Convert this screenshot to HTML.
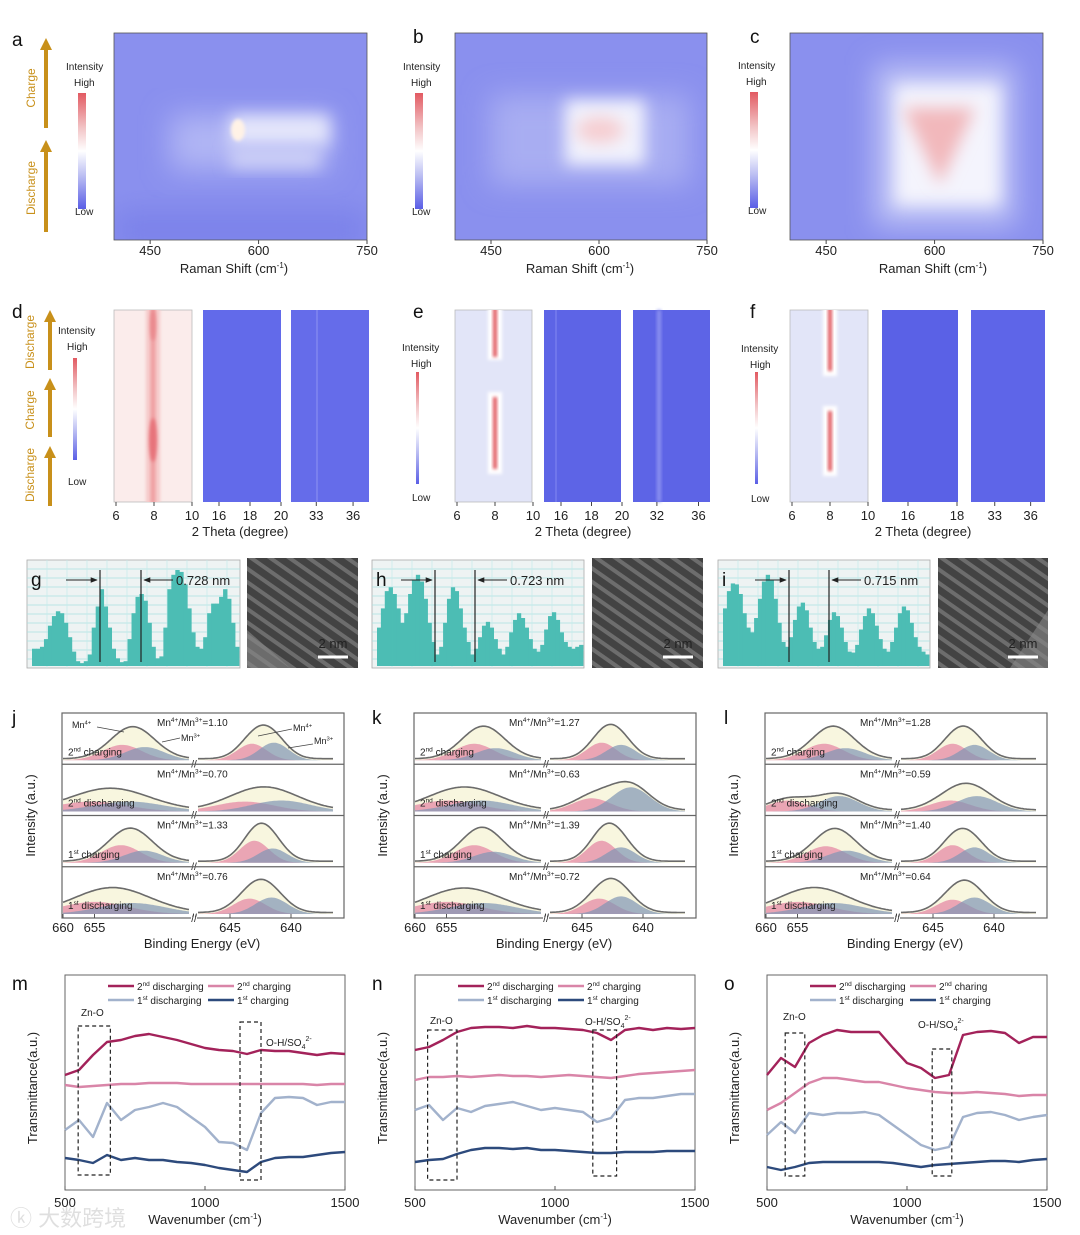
<!DOCTYPE html>
<html><head><meta charset="utf-8">
<style>
html,body{margin:0;padding:0;background:#fff;}
svg{display:block;font-family:"Liberation Sans","Noto Sans CJK SC",sans-serif;}
.lbl{font-size:19px;fill:#111;}
.tk{font-size:13px;fill:#222;}
.ax{font-size:13px;fill:#222;}
.sm{font-size:10px;fill:#222;}
.or{font-size:12px;fill:#c8901a;}
</style></head>
<body>
<svg id="fig" width="1080" height="1235" viewBox="0 0 1080 1235" xmlns="http://www.w3.org/2000/svg">
<defs>
<linearGradient id="cbar" x1="0" y1="0" x2="0" y2="1">
<stop offset="0" stop-color="#e25a62"/><stop offset="0.3" stop-color="#f2c4c6"/><stop offset="0.5" stop-color="#ffffff"/><stop offset="0.72" stop-color="#b9bcf2"/><stop offset="1" stop-color="#5a5ee6"/>
</linearGradient>
<filter id="bl8" x="-50%" y="-50%" width="200%" height="200%"><feGaussianBlur stdDeviation="14"/></filter>
<filter id="bl4" x="-50%" y="-50%" width="200%" height="200%"><feGaussianBlur stdDeviation="8"/></filter>
<filter id="bl2" x="-50%" y="-50%" width="200%" height="200%"><feGaussianBlur stdDeviation="1.6"/></filter>
<clipPath id="cA"><rect x="114" y="33" width="253" height="207"/></clipPath>
<clipPath id="cB"><rect x="455" y="33" width="252" height="207"/></clipPath>
<clipPath id="cC"><rect x="790" y="33" width="253" height="207"/></clipPath>
<clipPath id="cD"><rect x="114" y="310" width="78" height="192"/></clipPath>
<clipPath id="cE"><rect x="455" y="310" width="77" height="192"/></clipPath>
<clipPath id="cF"><rect x="790" y="310" width="78" height="192"/></clipPath>
<pattern id="tem" width="11" height="11" patternUnits="userSpaceOnUse" patternTransform="rotate(35)">
<rect width="11" height="11" fill="#3a3a3a"/><rect y="3" width="11" height="4" fill="#8a8a8a" opacity="0.8"/>
</pattern>
<marker id="arR" viewBox="0 0 10 10" refX="9" refY="5" markerWidth="7" markerHeight="7" orient="auto"><path d="M0,1 L10,5 L0,9 z" fill="#222"/></marker>
<marker id="arO" viewBox="0 0 10 10" refX="5" refY="5" markerWidth="3" markerHeight="3" orient="auto"><path d="M0,0 L10,5 L0,10 z" fill="#c8901a"/></marker>
</defs>

<text class="lbl" x="12" y="46">a</text>
<text class="lbl" x="413" y="43">b</text>
<text class="lbl" x="750" y="43">c</text>
<text class="lbl" x="12" y="318">d</text>
<text class="lbl" x="413" y="318">e</text>
<text class="lbl" x="750" y="318">f</text>
<text class="lbl" x="12" y="724">j</text>
<text class="lbl" x="372" y="724">k</text>
<text class="lbl" x="724" y="724">l</text>
<text class="lbl" x="12" y="990">m</text>
<text class="lbl" x="372" y="990">n</text>
<text class="lbl" x="724" y="990">o</text>

<g>
<rect x="114" y="33" width="253" height="207" fill="#8a90ee"/>
<g clip-path="url(#cA)">
<rect x="114" y="210" width="253" height="40" fill="#7c82ea" filter="url(#bl8)"/>
<rect x="170" y="115" width="160" height="55" fill="#b0b5f4" filter="url(#bl8)"/>
<rect x="230" y="115" width="100" height="30" fill="#e4e6fb" filter="url(#bl4)"/>
<rect x="230" y="148" width="90" height="20" fill="#cdd0f7" filter="url(#bl4)"/>
<ellipse cx="238" cy="130" rx="7" ry="11" fill="#fff2e6" filter="url(#bl2)"/>
</g>
<rect x="114" y="33" width="253" height="207" fill="none" stroke="#555" stroke-width="0.8"/>
</g>
<g>
<rect x="455" y="33" width="252" height="207" fill="#8a90ee"/>
<g clip-path="url(#cB)">
<rect x="490" y="95" width="200" height="90" fill="#a8adf2" filter="url(#bl8)"/>
<rect x="565" y="100" width="80" height="65" fill="#f2f3fd" filter="url(#bl4)"/>
<ellipse cx="600" cy="130" rx="24" ry="13" fill="#f6cdd0" filter="url(#bl4)"/>
</g>
<rect x="455" y="33" width="252" height="207" fill="none" stroke="#555" stroke-width="0.8"/>
</g>
<g>
<rect x="790" y="33" width="253" height="207" fill="#8a90ee"/>
<g clip-path="url(#cC)">
<rect x="875" y="65" width="140" height="160" fill="#c0c4f6" filter="url(#bl8)"/>
<rect x="895" y="85" width="105" height="120" fill="#f4f4fd" filter="url(#bl4)"/>
<path d="M903,108 L975,108 L940,185 Z" fill="#f2b8bb" filter="url(#bl4)"/>
</g>
<rect x="790" y="33" width="253" height="207" fill="none" stroke="#555" stroke-width="0.8"/>
</g>

<g>
<rect x="114" y="310" width="78" height="192" fill="#fbeceb" stroke="#bbb" stroke-width="0.8"/>
<g clip-path="url(#cD)">
<rect x="146" y="300" width="14" height="210" fill="#f5c8c8" filter="url(#bl2)"/>
<rect x="151" y="305" width="4" height="200" fill="#ee9a9c" filter="url(#bl2)"/>
<ellipse cx="153" cy="440" rx="4" ry="22" fill="#e7737a" filter="url(#bl2)"/>
<ellipse cx="153" cy="325" rx="3" ry="16" fill="#ea8a8e" filter="url(#bl2)"/>
</g>
<rect x="203" y="310" width="78" height="192" fill="#626aea"/>
<rect x="291" y="310" width="78" height="192" fill="#656cea"/>
<rect x="316" y="310" width="2" height="192" fill="#7a80ee"/>
</g>
<g>
<rect x="455" y="310" width="77" height="192" fill="#e2e5f8" stroke="#bbb" stroke-width="0.8"/>
<g clip-path="url(#cE)">
<rect x="488" y="300" width="14" height="60" fill="#ffffff" filter="url(#bl2)"/>
<rect x="488" y="392" width="14" height="82" fill="#ffffff" filter="url(#bl2)"/>
<rect x="493" y="305" width="4" height="52" fill="#e05a60" filter="url(#bl2)"/>
<rect x="493" y="397" width="4" height="72" fill="#e05a60" filter="url(#bl2)"/>
</g>
<rect x="544" y="310" width="77" height="192" fill="#5d64e6"/>
<rect x="555" y="310" width="2" height="192" fill="#7076ec"/>
<rect x="633" y="310" width="77" height="192" fill="#5d64e6"/>
<rect x="657" y="310" width="4" height="192" fill="#8d92f0" filter="url(#bl2)"/>
</g>
<g>
<rect x="790" y="310" width="78" height="192" fill="#e2e5f8" stroke="#bbb" stroke-width="0.8"/>
<g clip-path="url(#cF)">
<rect x="823" y="300" width="14" height="76" fill="#ffffff" filter="url(#bl2)"/>
<rect x="823" y="406" width="14" height="70" fill="#ffffff" filter="url(#bl2)"/>
<rect x="828" y="305" width="4" height="66" fill="#e05a60" filter="url(#bl2)"/>
<rect x="828" y="411" width="4" height="60" fill="#e05a60" filter="url(#bl2)"/>
</g>
<rect x="882" y="310" width="76" height="192" fill="#5a61e6"/>
<rect x="971" y="310" width="74" height="192" fill="#5e65e8"/>
</g>

<g><text class="sm" x="66" y="70">Intensity</text><text class="sm" x="74" y="86">High</text><rect x="78" y="93" width="8" height="116" fill="url(#cbar)"/><text class="sm" x="75" y="215">Low</text></g>
<g><text class="sm" x="403" y="70">Intensity</text><text class="sm" x="411" y="86">High</text><rect x="415" y="93" width="8" height="116" fill="url(#cbar)"/><text class="sm" x="412" y="215">Low</text></g>
<g><text class="sm" x="738" y="69">Intensity</text><text class="sm" x="746" y="85">High</text><rect x="750" y="92" width="8" height="116" fill="url(#cbar)"/><text class="sm" x="748" y="214">Low</text></g>
<g><text class="sm" x="58" y="334">Intensity</text><text class="sm" x="67" y="350">High</text><rect x="73" y="358" width="4" height="102" fill="url(#cbar)"/><text class="sm" x="68" y="485">Low</text></g>
<g><text class="sm" x="402" y="351">Intensity</text><text class="sm" x="411" y="367">High</text><rect x="416" y="372" width="3" height="112" fill="url(#cbar)"/><text class="sm" x="412" y="501">Low</text></g>
<g><text class="sm" x="741" y="352">Intensity</text><text class="sm" x="750" y="368">High</text><rect x="755" y="372" width="3" height="112" fill="url(#cbar)"/><text class="sm" x="751" y="502">Low</text></g>

<g stroke="#c8901a" stroke-width="4">
<line x1="46" y1="128" x2="46" y2="44" marker-end="url(#arO)"/><line x1="46" y1="232" x2="46" y2="146" marker-end="url(#arO)"/>
</g>
<text class="or" transform="translate(35,88) rotate(-90)" text-anchor="middle">Charge</text>
<text class="or" transform="translate(35,188) rotate(-90)" text-anchor="middle">Discharge</text>
<g stroke="#c8901a" stroke-width="4">
<line x1="50" y1="370" x2="50" y2="316" marker-end="url(#arO)"/><line x1="50" y1="437" x2="50" y2="384" marker-end="url(#arO)"/><line x1="50" y1="506" x2="50" y2="452" marker-end="url(#arO)"/>
</g>
<text class="or" transform="translate(34,342) rotate(-90)" text-anchor="middle">Discharge</text>
<text class="or" transform="translate(34,410) rotate(-90)" text-anchor="middle">Charge</text>
<text class="or" transform="translate(34,475) rotate(-90)" text-anchor="middle">Discharge</text>

<text class="ax" x="234" y="273" text-anchor="middle">Raman Shift (cm<tspan font-size="8" dy="-5">-1</tspan><tspan dy="5">)</tspan></text>
<text class="ax" x="580" y="273" text-anchor="middle">Raman Shift (cm<tspan font-size="8" dy="-5">-1</tspan><tspan dy="5">)</tspan></text>
<text class="ax" x="933" y="273" text-anchor="middle">Raman Shift (cm<tspan font-size="8" dy="-5">-1</tspan><tspan dy="5">)</tspan></text>
<text class="ax" x="240" y="536" text-anchor="middle">2 Theta (degree)</text>
<text class="ax" x="583" y="536" text-anchor="middle">2 Theta (degree)</text>
<text class="ax" x="923" y="536" text-anchor="middle">2 Theta (degree)</text>

<g id="dyn"></g>
<text x="10" y="1226" font-size="22" fill="#d8d8d8" opacity="0.8">ⓚ 大数跨境</text>
</svg>
<script>
const ramanTicks = [450, 600, 750];
const xrdTicksA = [6, 8, 10];
const xrdTicksB = [16, 18, 20];
const xrdTicksC1 = [33, 36];
const xrdTicksC2 = [32, 36];
const profileG = [18,18,20,28,42,52,57,55,45,30,15,5,3,5,12,40,62,80,62,40,18,8,4,5,28,55,72,75,68,45,20,8,10,40,80,95,100,98,85,60,35,20,18,30,55,65,65,72,80,70,45,20];
const profileH = [40,60,78,82,75,60,45,55,75,90,95,88,70,45,25,12,20,45,70,82,78,60,40,25,12,18,30,42,46,40,28,18,12,20,35,48,55,50,40,28,18,15,22,38,52,56,48,35,25,20,18,20,22];
const profileI = [60,78,86,85,75,55,40,35,50,70,88,95,90,70,45,25,20,30,48,62,66,58,40,25,18,20,32,48,56,52,40,25,15,14,22,38,52,60,55,42,28,18,15,25,40,55,62,58,45,30,20,15,12];
const spacingLabels = ['0.728 nm', '0.723 nm', '0.715 nm'];
const xpsTicks = [660, 655, 645, 640];
const xpsRowLabels = ['2nd charging', '2nd discharging', '1st charging', '1st discharging'];
const xpsRatiosJ = ['1.10', '0.70', '1.33', '0.76'];
const xpsRatiosK = ['1.27', '0.63', '1.39', '0.72'];
const xpsRatiosL = ['1.28', '0.59', '1.40', '0.64'];
const xpsLeftJ = [[650.6,14,647.0,12,12,1.0],[655.5,9,649.5,9,7,1.8],[650.8,16,647.2,11,12,1.0],[655.0,11,649.0,10,8,1.7]];
const xpsRightJ = [[643.2,15,641.4,16,12,1.0],[643.8,9,640.8,10,9,2.0],[643.0,20,641.5,13,12,1.0],[643.4,14,641.6,15,12,1.1]];
const xpsLeftK = [[650.6,15,647.2,11,12,1.0],[654.8,10,649.5,10,6,1.6],[650.6,16,647.5,10,13,1.0],[655.0,11,649.2,10,7,1.7]];
const xpsRightK = [[643.4,16,641.8,14,12,1.0],[644.2,12,641.0,22,5,1.3],[643.4,20,641.8,14,12,1.0],[643.6,14,641.8,16,12,1.1]];
const xpsLeftL = [[650.8,15,647.4,11,12,1.0],[656.5,10,648.4,14,4,1.0],[650.5,15,647.2,11,12,1.0],[655.0,11,649.4,10,8,1.6]];
const xpsRightL = [[643.4,15,641.6,14,13,1.0],[643.6,10,641.4,14,8,1.4],[643.4,16,641.6,14,12,1.0],[643.4,13,641.6,15,12,1.1]];
const ftirWave = [500,550,600,650,700,750,800,850,900,950,1000,1050,1100,1150,1200,1250,1300,1350,1400,1450,1500];
const ftirTicks = [500, 1000, 1500];
const mDis2 = [115,120,135,148,150,154,156,153,150,146,142,140,139,136,140,139,139,137,135,137,136];
const mCh2 = [105,103,104,105,106,106,107,107,107,106,106,106,106,106,106,106,106,106,105,106,106];
const mDis1 = [60,70,53,87,70,80,83,87,83,73,63,48,47,40,77,92,93,92,85,88,88];
const mCh1 = [32,30,27,35,30,32,30,30,28,27,25,22,20,18,28,32,33,33,35,37,38];
const nDis2 = [140,143,150,158,162,163,163,162,164,162,162,161,160,157,150,160,162,160,162,161,162];
const nCh2 = [110,113,113,114,113,114,115,114,114,113,114,115,114,113,112,114,116,117,118,119,120];
const nDis1 = [80,85,70,82,78,84,86,88,84,80,82,80,78,68,72,90,92,92,94,96,96];
const nCh1 = [28,30,31,36,40,42,42,41,42,40,40,39,38,37,37,38,38,38,39,39,39];
const oDis2 = [115,132,123,147,155,160,158,158,158,142,127,122,112,115,155,158,159,157,147,153,153];
const oCh2 = [80,87,97,107,112,112,110,108,108,105,102,100,98,97,97,98,97,96,94,95,95];
const oDis1 = [55,68,57,77,75,77,77,78,75,65,55,45,40,43,73,77,78,75,70,73,75];
const oCh1 = [23,20,23,27,28,28,28,28,28,27,25,23,25,26,27,28,29,29,28,30,31];
const ftirNames = ['2nd discharging', '2nd charging', '1st discharging', '1st charging'];
const ftirNamesO = ['2nd discharging', '2nd charing', '1st discharging', '1st charging'];

const NS = 'http://www.w3.org/2000/svg';
const root = document.getElementById('dyn');
function mk(tag, attrs, parent) {
  const el = document.createElementNS(NS, tag);
  for (const k in attrs) el.setAttribute(k, attrs[k]);
  (parent || root).appendChild(el);
  return el;
}
function nm(el, name, inter) {
  
  
  return el;
}
function txt(x, y, s, cls, anchor, parent) {
  const t = mk('text', {x: x, y: y, class: cls || 'tk', 'text-anchor': anchor || 'middle'}, parent);
  t.textContent = s;
  return t;
}
function supTxt(x, y, base, sup, rest, size, parent, anchor) {
  const t = mk('text', {x: x, y: y, 'font-size': size, fill: '#222', 'text-anchor': anchor || 'start'}, parent);
  const a = document.createElementNS(NS, 'tspan'); a.textContent = base; t.appendChild(a);
  const b = document.createElementNS(NS, 'tspan'); b.setAttribute('font-size', size * 0.65); b.setAttribute('dy', -size * 0.4); b.textContent = sup; t.appendChild(b);
  const c = document.createElementNS(NS, 'tspan'); c.setAttribute('dy', size * 0.4); c.textContent = rest; t.appendChild(c);
  return t;
}

[[114,367],[455,707],[790,1043]].forEach((p, i) => {
  const g = nm(mk('g', {}), 'raman-x-axis-' + 'abc'[i]);
  const sx = v => p[0] + (v - 400) / 350 * (p[1] - p[0]);
  ramanTicks.forEach(v => {
    mk('line', {x1: sx(v), y1: 240, x2: sx(v), y2: 244, stroke: '#444'}, g);
    const t = txt(sx(v), 255, v, 'tk', 'middle', g);
    nm(t, 'raman-tick-label');
  });
});

function xrdAxis(x0, x1, lo, hi, ticks, name) {
  const g = nm(mk('g', {}), name);
  const sx = v => x0 + (v - lo) / (hi - lo) * (x1 - x0);
  ticks.forEach(v => {
    mk('line', {x1: sx(v), y1: 502, x2: sx(v), y2: 506, stroke: '#444'}, g);
    const t = txt(sx(v), 520, v, 'tk', 'middle', g);
    nm(t, 'xrd-tick-label');
  });
}
xrdAxis(116, 192, 6, 10, xrdTicksA, 'xrd-axis-d1');
xrdAxis(203.5, 281, 15, 20, xrdTicksB, 'xrd-axis-d2');
xrdAxis(293, 369, 31.1, 37.3, xrdTicksC1, 'xrd-axis-d3');
xrdAxis(457, 533, 6, 10, xrdTicksA, 'xrd-axis-e1');
xrdAxis(545.75, 622, 15, 20, xrdTicksB, 'xrd-axis-e2');
xrdAxis(634, 711, 29.8, 37.2, xrdTicksC2, 'xrd-axis-e3');
xrdAxis(792, 868, 6, 10, xrdTicksA, 'xrd-axis-f1');
xrdAxis(883.5, 957, 15, 18, [16, 18], 'xrd-axis-f2');
xrdAxis(972, 1045, 31.1, 37.2, xrdTicksC1, 'xrd-axis-f3');

function profile(x0, x1, data, letter, v1, v2, label) {
  const g = nm(mk('g', {}), 'line-profile-' + letter);
  const top = 560, bot = 668;
  mk('rect', {x: x0, y: top, width: x1 - x0, height: bot - top, fill: '#eef3f3', stroke: '#aaa', 'stroke-width': 0.8}, g);
  for (let y = top + 9; y < bot; y += 9) mk('line', {x1: x0, y1: y, x2: x1, y2: y, stroke: '#a8e2e2', 'stroke-width': 0.7}, g);
  for (let x = x0 + 20; x < x1; x += 20) mk('line', {x1: x, y1: top, x2: x, y2: bot, stroke: '#c4eaea', 'stroke-width': 0.7}, g);
  const bw = (x1 - x0 - 6) / data.length;
  const hy = v => bot - 2 - v / 100 * (bot - top - 12);
  data.forEach((v, i) => {
    const r = mk('rect', {x: x0 + 5 + i * bw, y: hy(v), width: bw + 0.4, height: bot - 2 - hy(v), fill: '#4cbdb4'}, g);
    nm(r, 'profile-bar');
  });
  mk('line', {x1: v1, y1: 570, x2: v1, y2: 662, stroke: '#222', 'stroke-width': 1.2}, g);
  mk('line', {x1: v2, y1: 570, x2: v2, y2: 662, stroke: '#222', 'stroke-width': 1.2}, g);
  mk('line', {x1: v1 - 34, y1: 580, x2: v1 - 3, y2: 580, stroke: '#222', 'stroke-width': 1, 'marker-end': 'url(#arR)'}, g);
  mk('line', {x1: v2 + 32, y1: 580, x2: v2 + 3, y2: 580, stroke: '#222', 'stroke-width': 1, 'marker-end': 'url(#arR)'}, g);
  const t = txt(v2 + 35, 585, label, 'tk', 'start', g);
  nm(t, 'spacing-label-' + letter);
  const l = txt(x0 + 4, 586, letter, 'lbl', 'start', g);
  nm(l, 'panel-label-' + letter);
}
profile(27, 240, profileG, 'g', 100, 141, spacingLabels[0]);
profile(372, 584, profileH, 'h', 435, 475, spacingLabels[1]);
profile(718, 930, profileI, 'i', 789, 829, spacingLabels[2]);
function tem(x0, x1, letter, bright) {
  const g = nm(mk('g', {}), 'tem-image-' + letter);
  mk('rect', {x: x0, y: 558, width: x1 - x0, height: 110, fill: 'url(#tem)'}, g);
  mk('rect', {x: x0, y: 558, width: x1 - x0, height: 110, fill: '#555', opacity: 0.35}, g);
  if (bright) mk('path', {d: bright, fill: '#888', opacity: 0.6}, g);
  mk('line', {x1: x1 - 40, y1: 657, x2: x1 - 10, y2: 657, stroke: '#fff', 'stroke-width': 3}, g);
  const t = txt(x1 - 25, 648, '2 nm', 'tk', 'middle', g);
  t.setAttribute('fill', '#fff');
  nm(t, 'scale-bar-label');
}
tem(247, 358, 'g', 'M247,630 L290,668 L247,668 Z');
tem(592, 703, 'h', null);
tem(938, 1048, 'i', 'M1010,668 L1048,610 L1048,668 Z');

function gauss(e, c, h, w) { return h * Math.exp(-((e - c) * (e - c)) / (2 * w * w)); }
function xpsPanel(bl, left, right, ratios, letter, annotate) {
  const g = nm(mk('g', {}), 'xps-panel-' + letter);
  const top = 713, bot = 918, right0 = bl + 282, rh = (bot - top) / 4;
  const hs = 1.1;
  const brk = bl + 131;
  const sL = e => bl + 1 + (660 - e) * 6.3;
  const sR = e => bl + 168 + (645 - e) * 12.2;
  mk('rect', {x: bl, y: top, width: right0 - bl, height: bot - top, fill: '#fff', stroke: '#666', 'stroke-width': 1.2}, g);
  for (let r = 0; r < 4; r++) {
    const rt = top + r * rh, base = rt + rh - 4;
    if (r > 0) mk('line', {x1: bl, y1: rt, x2: right0, y2: rt, stroke: '#666', 'stroke-width': 1.2}, g);
    [[left[r], sL, bl + 1, brk - 3, 3.1], [right[r], sR, brk + 5, right0 - 10, 1.2]].forEach(seg => {
      const p = seg[0], sc = seg[1], w = seg[4] * p[5];
      const cy = (p[0] + p[2]) / 2;
      const pts4 = [], pts3 = [], ptsE = [];
      for (let x = seg[2]; x <= seg[3]; x += 1.5) {
        let lo = 600, hi = 700;
        for (let k = 0; k < 30; k++) { const m = (lo + hi) / 2; if (sc(m) > x) lo = m; else hi = m; }
        const e = (lo + hi) / 2;
        const a = hs * gauss(e, p[0], p[1], w), b = hs * gauss(e, p[2], p[3], w), c = 0.6 * hs * gauss(e, cy, p[4], w * 0.9);
        pts4.push([x, base - a]); pts3.push([x, base - b]); ptsE.push([x, base - (a + b + c) - 1.5]);
      }
      const area = pts => 'M' + pts[0][0] + ',' + base + ' L' + pts.map(q => q[0].toFixed(1) + ',' + q[1].toFixed(1)).join(' L') + ' L' + pts[pts.length - 1][0] + ',' + base + ' Z';
      nm(mk('path', {d: area(ptsE), fill: '#f8f6df'}, g), 'xps-envelope-fill');
      nm(mk('path', {d: area(pts4), fill: '#e58aa6', opacity: 0.75}, g), 'xps-mn4-peak');
      nm(mk('path', {d: area(pts3), fill: '#7f96b4', opacity: 0.7}, g), 'xps-mn3-peak');
      nm(mk('polyline', {points: ptsE.map(q => q[0].toFixed(1) + ',' + q[1].toFixed(1)).join(' '), fill: 'none', stroke: '#6b6b6b', 'stroke-width': 1.6}, g), 'xps-envelope-line');
    });
    const rt2 = supTxt(bl + 95, rt + 13, 'Mn', '4+', '/Mn', 10, g);
    const s2 = document.createElementNS(NS, 'tspan'); s2.setAttribute('font-size', 6.5); s2.setAttribute('dy', -4); s2.textContent = '3+'; rt2.appendChild(s2);
    const s3 = document.createElementNS(NS, 'tspan'); s3.setAttribute('dy', 4); s3.textContent = '=' + ratios[r]; rt2.appendChild(s3);
    nm(rt2, 'xps-ratio-label');
    const lab = xpsRowLabels[r];
    const rl = supTxt(bl + 6, rt + rh - 9, lab[0], lab.slice(1, 3), lab.slice(3), 10, g);
    nm(rl, 'xps-row-label');
    txt(brk + 1, rt + rh + 3, '//', 'sm', 'middle', g);
  }
  mk('rect', {x: brk - 2, y: bot - 1, width: 6, height: 4, fill: '#fff'}, g);
  txt(brk + 1, bot + 4, '//', 'sm', 'middle', g);
  xpsTicks.forEach(v => {
    const x = v > 650 ? sL(v) : sR(v);
    mk('line', {x1: x, y1: bot, x2: x, y2: bot - 4, stroke: '#555'}, g);
    nm(txt(x, 932, v, 'tk', 'middle', g), 'xps-tick-label');
  });
  nm(txt(bl + 140, 948, 'Binding Energy (eV)', 'ax', 'middle', g), 'xps-x-axis-title');
  const yt = txt(0, 0, 'Intensity (a.u.)', 'ax', 'middle', g);
  yt.setAttribute('transform', 'translate(' + (bl - 27) + ',' + ((top + bot) / 2) + ') rotate(-90)');
  nm(yt, 'xps-y-axis-title');
  if (annotate) {
    nm(supTxt(bl + 10, 728, 'Mn', '4+', '', 9, g), 'mn4-annotation');
    mk('line', {x1: bl + 35, y1: 727, x2: bl + 62, y2: 732, stroke: '#444', 'stroke-width': 0.7}, g);
    nm(supTxt(bl + 119, 741, 'Mn', '3+', '', 9, g), 'mn3-annotation');
    mk('line', {x1: bl + 118, y1: 738, x2: bl + 100, y2: 742, stroke: '#444', 'stroke-width': 0.7}, g);
    nm(supTxt(bl + 231, 731, 'Mn', '4+', '', 9, g), 'mn4-annotation-right');
    mk('line', {x1: bl + 230, y1: 729, x2: bl + 196, y2: 736, stroke: '#444', 'stroke-width': 0.7}, g);
    nm(supTxt(bl + 252, 744, 'Mn', '3+', '', 9, g), 'mn3-annotation-right');
    mk('line', {x1: bl + 251, y1: 744, x2: bl + 226, y2: 748, stroke: '#444', 'stroke-width': 0.7}, g);
  }
}
xpsPanel(62, xpsLeftJ, xpsRightJ, xpsRatiosJ, 'j', true);
xpsPanel(414, xpsLeftK, xpsRightK, xpsRatiosK, 'k', false);
xpsPanel(765, xpsLeftL, xpsRightL, xpsRatiosL, 'l', false);

const ftirColors = ['#a3225a', '#d985a8', '#a2b2cc', '#2d4a7c'];
function ftir(x0, series, names, letter, boxes, lg) {
  const g = nm(mk('g', {}), 'ftir-panel-' + letter);
  const top = 975, bot = 1190, W = 280;
  const sx = w => x0 + (w - 500) / 1000 * W;
  const sy = v => bot - v;
  mk('rect', {x: x0, y: top, width: W, height: bot - top, fill: 'none', stroke: '#666', 'stroke-width': 1}, g);
  series.forEach((s, i) => {
    const pl = mk('polyline', {points: s.map((v, j) => sx(ftirWave[j]).toFixed(1) + ',' + sy(v).toFixed(1)).join(' '), fill: 'none', stroke: ftirColors[i], 'stroke-width': 2.4, 'stroke-linejoin': 'round'}, g);
    nm(pl, 'ftir-line-' + names[i].replace(/\s+/g, '-'));
  });
  boxes.forEach(b => {
    nm(mk('rect', {x: sx(b[0]), y: b[2], width: sx(b[1]) - sx(b[0]), height: b[3] - b[2], fill: 'none', stroke: '#222', 'stroke-width': 1.2, 'stroke-dasharray': '4,3'}, g), 'band-box');
  });
  nm(txt(lg.zx, lg.zy, 'Zn-O', 'sm', 'start', g), 'zn-o-label');
  const oh = supTxt(lg.ox, lg.oy, 'O-H/SO', '', '', 10, g);
  const s4 = document.createElementNS(NS, 'tspan'); s4.setAttribute('font-size', 7); s4.setAttribute('dy', 3); s4.textContent = '4'; oh.appendChild(s4);
  const s5 = document.createElementNS(NS, 'tspan'); s5.setAttribute('font-size', 7); s5.setAttribute('dy', -8); s5.textContent = '2-'; oh.appendChild(s5);
  nm(oh, 'oh-so4-label');
  names.forEach((n, i) => {
    const lx = x0 + 43 + (i % 2) * 100, ly = 986 + Math.floor(i / 2) * 14;
    mk('line', {x1: lx, y1: ly, x2: lx + 26, y2: ly, stroke: ftirColors[i], 'stroke-width': 2.5}, g);
    nm(supTxt(lx + 29, ly + 4, n[0], n.slice(1, 3), n.slice(3), 10, g), 'legend-entry');
  });
  ftirTicks.forEach(v => {
    mk('line', {x1: sx(v), y1: bot, x2: sx(v), y2: bot - 4, stroke: '#555'}, g);
    nm(txt(sx(v), 1207, v, 'tk', 'middle', g), 'ftir-tick-label');
  });
  const xt = mk('text', {x: x0 + 140, y: 1224, class: 'ax', 'text-anchor': 'middle'}, g);
  xt.innerHTML = 'Wavenumber (cm<tspan font-size="8" dy="-5">-1</tspan><tspan dy="5">)</tspan>';
  nm(xt, 'ftir-x-axis-title');
  const yt = txt(0, 0, 'Transmittance(a.u.)', 'ax', 'middle', g);
  yt.setAttribute('transform', 'translate(' + (x0 - 28) + ',1088) rotate(-90)');
  nm(yt, 'ftir-y-axis-title');
}
ftir(65, [mDis2, mCh2, mDis1, mCh1], ftirNames, 'm', [[547, 662, 1026, 1175], [1125, 1200, 1022, 1180]], {zx: 81, zy: 1016, ox: 266, oy: 1046});
ftir(415, [nDis2, nCh2, nDis1, nCh1], ftirNames, 'n', [[545, 650, 1030, 1180], [1135, 1220, 1030, 1176]], {zx: 430, zy: 1024, ox: 585, oy: 1025});
ftir(767, [oDis2, oCh2, oDis1, oCh1], ftirNamesO, 'o', [[565, 635, 1033, 1176], [1090, 1160, 1049, 1176]], {zx: 783, zy: 1020, ox: 918, oy: 1028});
</script>
</body></html>
